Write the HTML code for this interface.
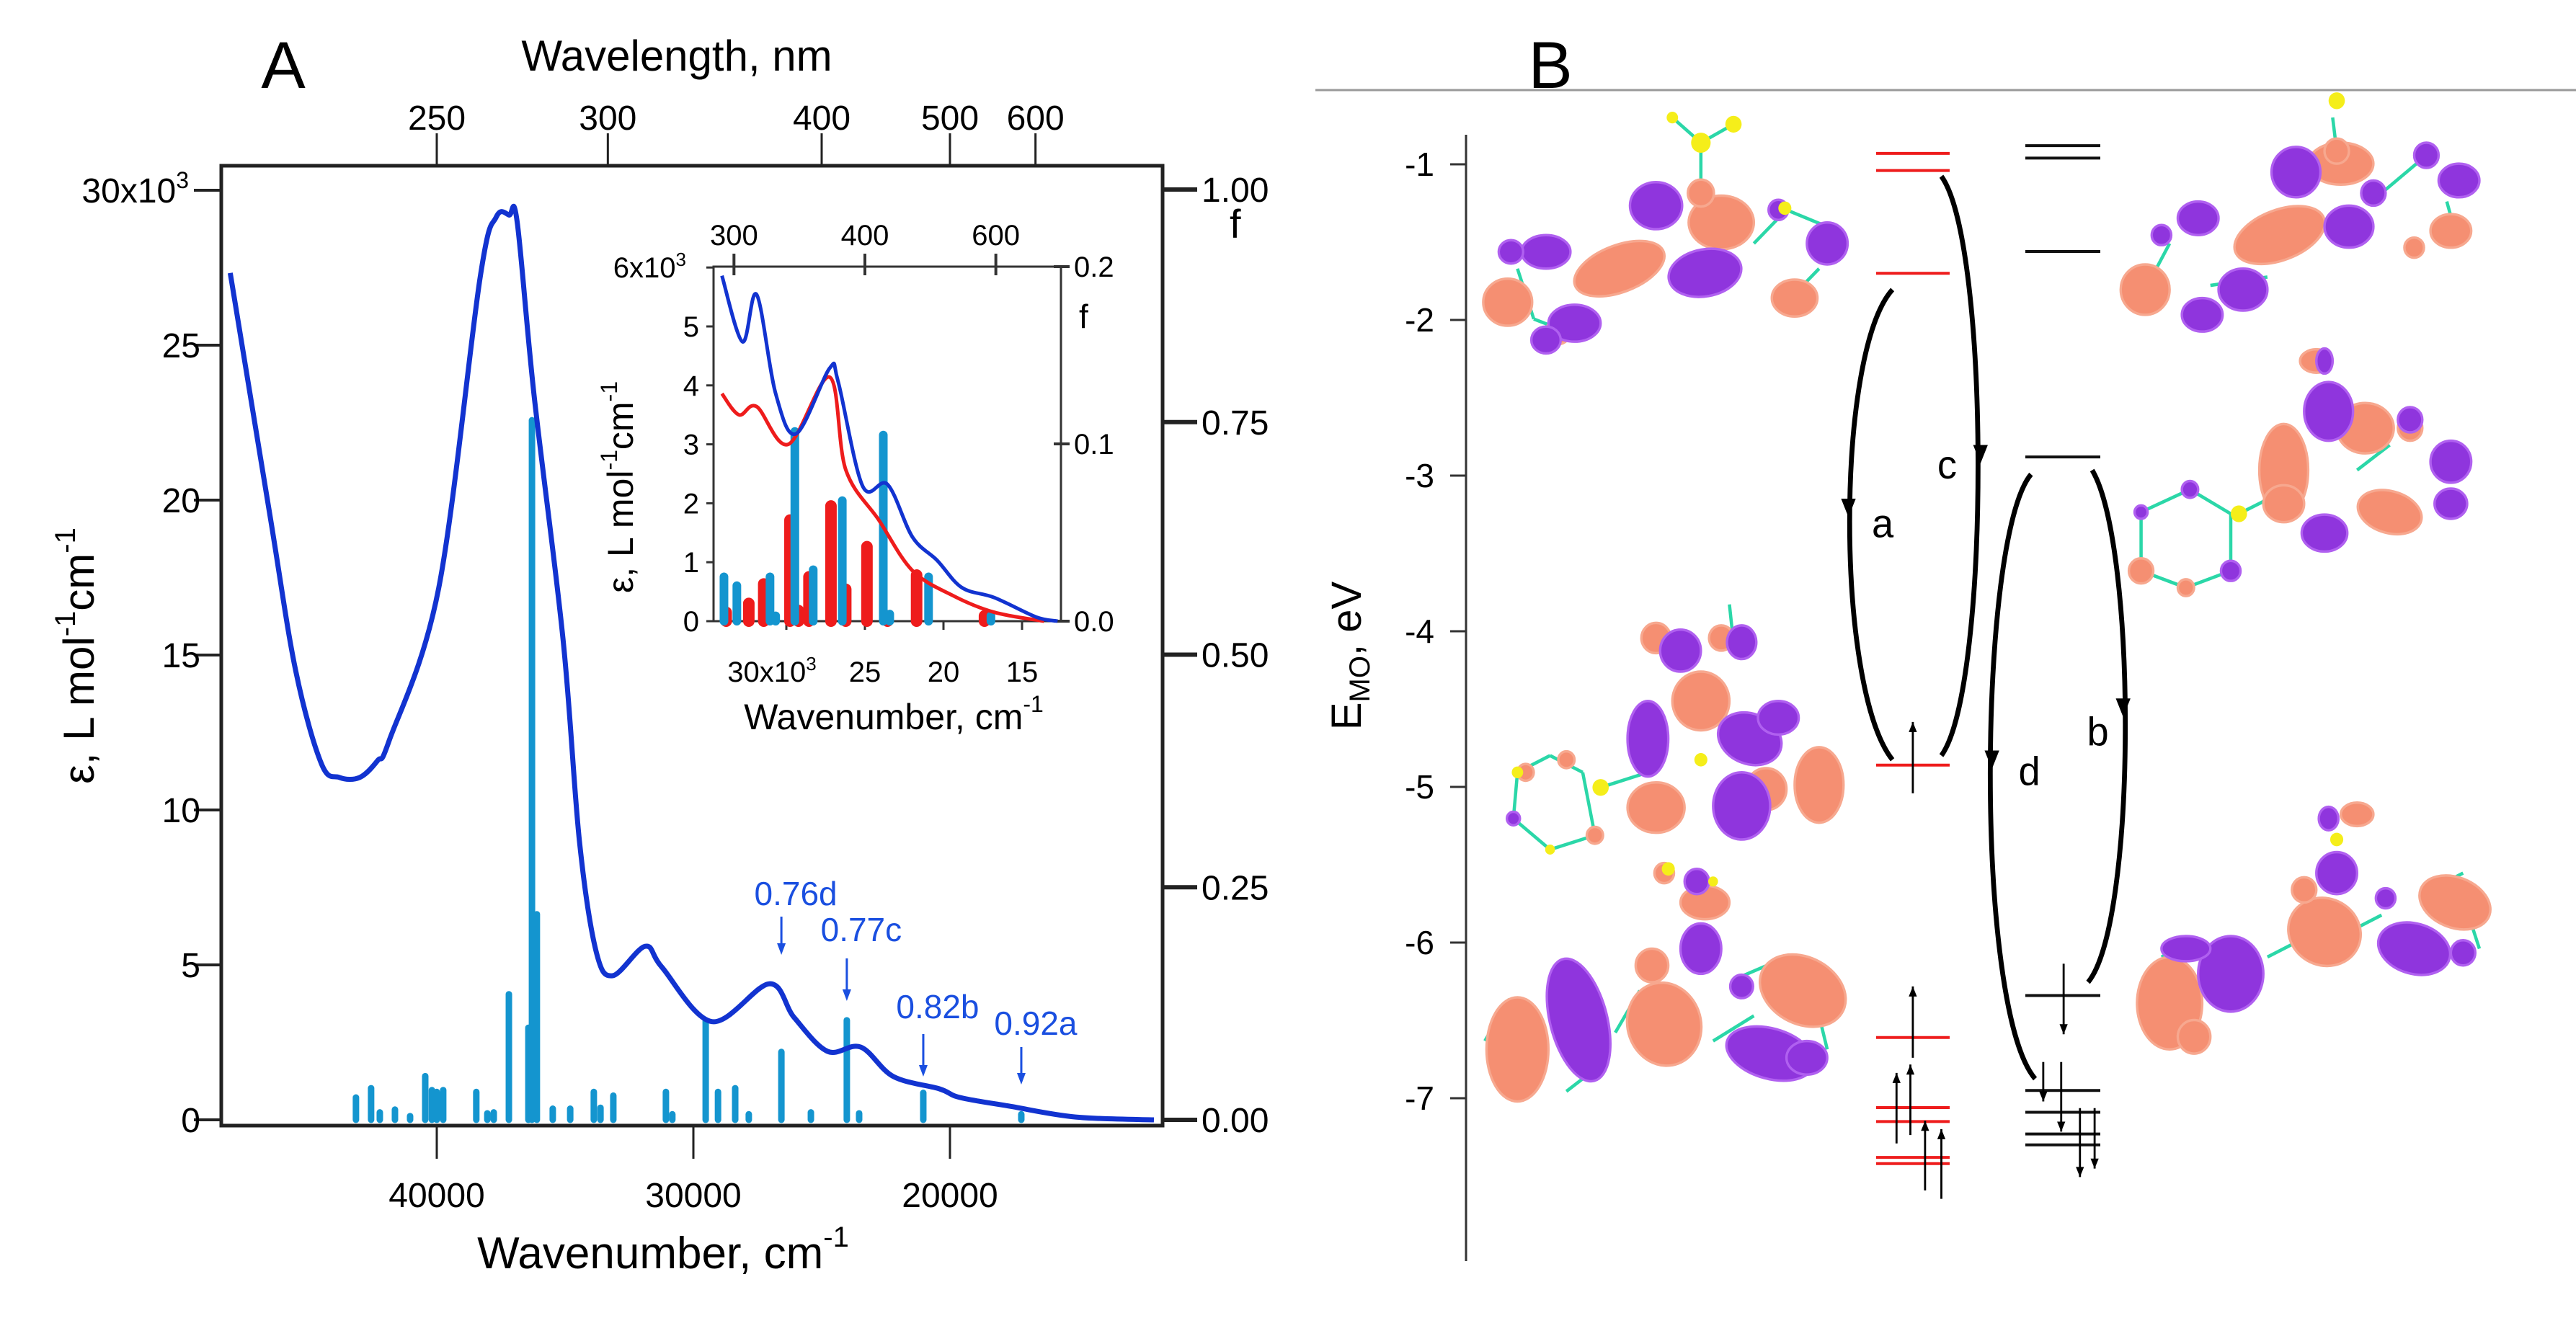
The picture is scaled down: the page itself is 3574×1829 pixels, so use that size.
<!DOCTYPE html>
<html><head><meta charset="utf-8"><style>
html,body{margin:0;padding:0;background:#fff}
svg{display:block;font-family:"Liberation Sans",Arial,sans-serif}
</style></head><body>
<svg id="fig" width="3574" height="1829" viewBox="0 0 3574 1829" xmlns="http://www.w3.org/2000/svg">
<rect width="3574" height="1829" fill="#fff"/>
<g id="panelA"></g>
<g id="panelB"></g>
</svg>
<script>
// ---------- Panel A data ----------
const mainWn  = [48050,46500,45500,44500,43800,43000,42300,41850,39930,38310,37680,37180,36870,36210,35080,34440,33800,33150,31880,31230,29280,27040,26070,24770,23480,22210,20410,19610,17670,15100,12050];
const mainEps = [27330,19500,14500,11500,11050,11050,11600,12250,17140,27190,29140,29200,29000,23400,15500,9000,5470,4650,5600,4930,3170,4390,3300,2210,2350,1400,1000,720,440,90,0];
const barWn = [43150,42560,42220,41630,41040,40450,40190,40000,39750,38460,38030,37780,37190,36430,36290,36100,35480,34800,33880,33620,33120,31070,30820,29520,29040,28370,27840,26570,25420,24020,23540,21040,17220];
const barF  = [0.024,0.034,0.008,0.011,0.004,0.047,0.032,0.030,0.032,0.030,0.007,0.008,0.135,0.099,0.752,0.221,0.012,0.012,0.030,0.013,0.026,0.030,0.006,0.107,0.030,0.034,0.006,0.073,0.008,0.107,0.007,0.029,0.006];
const annLabels = ["0.76d","0.77c","0.82b","0.92a"];
const annWn = [26570,24020,21040,17220];
const yTicks = [0,5000,10000,15000,20000,25000,30000];
const yTickLabels = ["0","5","10","15","20","25","30x10"];
const xTicks = [40000,30000,20000];
const xTickLabels = ["40000","30000","20000"];
const nmTicks = [250,300,400,500,600];
const fTicks = [0,0.25,0.5,0.75,1.0];
const fTickLabels = ["0.00","0.25","0.50","0.75","1.00"];
// inset data
const inBlueWn  = [34100,32790,31890,30680,29370,27250,26710,25140,23560,21980,20400,18830,16760,14100,12740];
const inBlueEps = [5860,4740,5540,3860,3180,4290,4070,2290,2320,1430,1030,570,400,70,0];
const inRedWn  = [34100,33020,31890,29870,27250,26220,24100,21980,19370,16760,13600];
const inRedEps = [3860,3500,3640,3000,4140,2570,1710,860,430,150,0];
const inBlueBarWn = [33970,33150,31040,29460,28290,26440,23830,23420,20950,16980,30680];
const inBlueBarF  = [0.025,0.020,0.025,0.107,0.029,0.068,0.105,0.004,0.025,0.003,0.003];
const inRedBarWn = [33830,32390,31440,29770,29230,28560,27160,26220,24870,23560,21710,17390];
const inRedBarF  = [0.005,0.010,0.021,0.057,0.006,0.025,0.065,0.018,0.042,0.003,0.026,0.003];
const inXTicks = [30000,25000,20000,15000];
const inXTickLabels = ["30x10","25","20","15"];
const inYTicks = [0,1000,2000,3000,4000,5000,6000];
const inYTickLabels = ["0","1","2","3","4","5","6x10"];
const inNmTicks = [300,400,600];
const inFTicks = [0,0.1,0.2];
const inFTickLabels = ["0.0","0.1","0.2"];

// ---------- Panel B data ----------
const redLevels = [-0.93,-1.04,-1.70,-4.86,-6.61,-7.06,-7.15,-7.38,-7.42];
const blackLevels = [-0.88,-0.96,-1.56,-2.88,-6.34,-6.95,-7.09,-7.23,-7.30];
const eTicks = [-1,-2,-3,-4,-5,-6,-7];

const NS="http://www.w3.org/2000/svg";
function mk(tag, parent, attrs){const e=document.createElementNS(NS,tag);for(const k in attrs)e.setAttribute(k,attrs[k]);parent.appendChild(e);return e;}
function smooth(pts){let d="M"+pts[0][0]+","+pts[0][1];for(let i=0;i<pts.length-1;i++){const p0=pts[Math.max(0,i-1)],p1=pts[i],p2=pts[i+1],p3=pts[Math.min(pts.length-1,i+2)];const c1=[p1[0]+(p2[0]-p0[0])/6,p1[1]+(p2[1]-p0[1])/6],c2=[p2[0]-(p3[0]-p1[0])/6,p2[1]-(p3[1]-p1[1])/6];d+=" C"+c1[0].toFixed(1)+","+c1[1].toFixed(1)+" "+c2[0].toFixed(1)+","+c2[1].toFixed(1)+" "+p2[0].toFixed(1)+","+p2[1].toFixed(1);}return d;}

const A=document.getElementById('panelA');
const xA=w=>606+(40000-w)*0.0356;
const yA=e=>1554-e*215/5000;
const yF=f=>1554-f*1291;
const xNm=n=>xA(1e7/n);
const xI=w=>1200+(25000-w)*0.0218;
const yI=e=>862-e*0.0818;
const yIF=f=>862-f*2460;

let t;
t=mk('text',A,{x:393,y:122,'font-size':92,'text-anchor':'middle',fill:'#000'});t.textContent='A';


t=mk('text',A,{x:939,y:98,'font-size':60,'text-anchor':'middle'});t.textContent='Wavelength, nm';


let fr=mk('rect',A,{x:307,y:230,width:1306,height:1332,fill:'none',stroke:'#222','stroke-width':5});


yTicks.forEach((v,i)=>{const y=yA(v);
 const l=mk('line',A,{x1:269,x2:307,y1:y,y2:y,stroke:'#222','stroke-width':4});
 
 
 const tx=mk('text',A,{x:i==6?262:278,y:y+17,'font-size':48,'text-anchor':'end'});
 tx.textContent=yTickLabels[i];
 if(i==6){const s=mk('tspan',tx,{dy:-20,'font-size':32});s.textContent='3';}
 
 });
mk('line',A,{x1:1613,x2:1613,y1:230,y2:1562,stroke:'#222','stroke-width':5});
fTicks.forEach((v,i)=>{const y=yF(v);
 const l=mk('line',A,{x1:1613,x2:1661,y1:y,y2:y,stroke:'#222','stroke-width':6});
 
 
 const tx=mk('text',A,{x:1667,y:y+17,'font-size':48});tx.textContent=fTickLabels[i];
 
 });
t=mk('text',A,{x:1706,y:330,'font-size':56});t.textContent='f';


xTicks.forEach((v,i)=>{const x=xA(v);
 const l=mk('line',A,{x1:x,x2:x,y1:1562,y2:1608,stroke:'#222','stroke-width':3});
 
 
 const tx=mk('text',A,{x:x,y:1675,'font-size':48,'text-anchor':'middle'});tx.textContent=xTickLabels[i];
 
 });
t=mk('text',A,{x:920,y:1760,'font-size':62,'text-anchor':'middle'});t.textContent='Wavenumber, cm';
let sp=mk('tspan',t,{dy:-30,'font-size':40});sp.textContent='-1';


nmTicks.forEach(n=>{const x=xNm(n);
 const l=mk('line',A,{x1:x,x2:x,y1:230,y2:185,stroke:'#222','stroke-width':3});
 
 
 const tx=mk('text',A,{x:x,y:180,'font-size':48,'text-anchor':'middle'});tx.textContent=String(n);
 
 });
t=mk('text',A,{x:0,y:0,'font-size':60,'text-anchor':'middle',transform:'translate(130,910) rotate(-90)'});
t.textContent='ε, L mol';
sp=mk('tspan',t,{dy:-26,'font-size':40});sp.textContent='-1';
sp=mk('tspan',t,{dy:26});sp.textContent='cm';
sp=mk('tspan',t,{dy:-26,'font-size':40});sp.textContent='-1';


barWn.forEach((w,i)=>{const x=xA(w);
 const b=mk('line',A,{x1:x,x2:x,y1:yF(0),y2:Math.min(yF(barF[i]),yF(0)-4),stroke:'#1495cf','stroke-width':9,'stroke-linecap':'round'});
 
 });
let p=mk('path',A,{d:smooth(mainWn.map((w,i)=>[xA(w),yA(mainEps[i])])),fill:'none',stroke:'#1233d0','stroke-width':7,'stroke-linejoin':'round'});


const annDy=[[1272,1325,1241],[1330,1389,1291],[1435,1494,1398],[1453,1505,1421]];
annWn.forEach((w,i)=>{const x=xA(w);
 const l=mk('line',A,{x1:x,x2:x,y1:annDy[i][0],y2:annDy[i][1]-10,stroke:'#1a4fe0','stroke-width':3});
 
 
 mk('path',A,{d:`M${x-6},${annDy[i][1]-16} L${x+6},${annDy[i][1]-16} L${x},${annDy[i][1]} Z`,fill:'#1a4fe0'});
 const tx=mk('text',A,{x:x+20,y:annDy[i][2]+15,'font-size':46,'text-anchor':'middle',fill:'#1a4fe0'});tx.textContent=annLabels[i];
 
 });

// ---------- inset ----------
let ib=mk('rect',A,{x:990,y:370,width:482,height:492,fill:'none',stroke:'#333','stroke-width':3});


inYTicks.forEach((v,i)=>{const y=yI(v);
 const l=mk('line',A,{x1:980,x2:990,y1:y,y2:y,stroke:'#333','stroke-width':3});
 
 
 const tx=mk('text',A,{x:i==6?952:970,y:y+14,'font-size':40,'text-anchor':'end'});tx.textContent=inYTickLabels[i];
 if(i==6){const s=mk('tspan',tx,{dy:-16,'font-size':26});s.textContent='3';}
 
 });
inFTicks.forEach((v,i)=>{const y=yIF(v);
 const l=mk('line',A,{x1:1462,x2:1484,y1:y,y2:y,stroke:'#333','stroke-width':4});
 
 
 const tx=mk('text',A,{x:1490,y:y+14,'font-size':40});tx.textContent=inFTickLabels[i];
 
 });
t=mk('text',A,{x:1497,y:455,'font-size':46});t.textContent='f';


inXTicks.forEach((v,i)=>{const x=xI(v);
 const l=mk('line',A,{x1:x,x2:x,y1:862,y2:874,stroke:'#333','stroke-width':3});
 
 
 const tx=mk('text',A,{x:i==0?x-20:x,y:946,'font-size':40,'text-anchor':'middle'});tx.textContent=inXTickLabels[i];
 if(i==0){const s=mk('tspan',tx,{dy:-16,'font-size':26});s.textContent='3';}
 
 });
t=mk('text',A,{x:1240,y:1012,'font-size':50,'text-anchor':'middle'});t.textContent='Wavenumber, cm';
sp=mk('tspan',t,{dy:-24,'font-size':32});sp.textContent='-1';


inNmTicks.forEach(n=>{const x=xI(1e7/n);
 const l=mk('line',A,{x1:x,x2:x,y1:352,y2:382,stroke:'#333','stroke-width':4});
 
 
 const tx=mk('text',A,{x:x,y:340,'font-size':40,'text-anchor':'middle'});tx.textContent=String(n);
 
 });
t=mk('text',A,{x:0,y:0,'font-size':50,'text-anchor':'middle',transform:'translate(878,676) rotate(-90)'});
t.textContent='ε, L mol';
sp=mk('tspan',t,{dy:-22,'font-size':32});sp.textContent='-1';
sp=mk('tspan',t,{dy:22});sp.textContent='cm';
sp=mk('tspan',t,{dy:-22,'font-size':32});sp.textContent='-1';


inRedBarWn.forEach((w,i)=>{const x=xI(w);
 const b=mk('line',A,{x1:x,x2:x,y1:yIF(0),y2:Math.min(yIF(inRedBarF[i]),yIF(0)-6),stroke:'#ee1c1c','stroke-width':16,'stroke-linecap':'round'});
 
 });
inBlueBarWn.forEach((w,i)=>{const x=xI(w);
 const b=mk('line',A,{x1:x,x2:x,y1:yIF(0),y2:Math.min(yIF(inBlueBarF[i]),yIF(0)-6),stroke:'#1495cf','stroke-width':12,'stroke-linecap':'round'});
 
 });
p=mk('path',A,{d:smooth(inRedWn.map((w,i)=>[xI(w),yI(inRedEps[i])])),fill:'none',stroke:'#ee1c1c','stroke-width':5});


p=mk('path',A,{d:smooth(inBlueWn.map((w,i)=>[xI(w),yI(inBlueEps[i])])),fill:'none',stroke:'#1233d0','stroke-width':5});



// ---------- Panel B ----------
const B=document.getElementById('panelB');
let hl=mk('line',B,{x1:1825,x2:3574,y1:125,y2:125,stroke:'#999','stroke-width':3});


t=mk('text',B,{x:2151,y:122,'font-size':92,'text-anchor':'middle'});t.textContent='B';


const yE=E=>228+(-1-E)*216;
let ax=mk('line',B,{x1:2034,x2:2034,y1:187,y2:1750,stroke:'#333','stroke-width':3});


eTicks.forEach(v=>{const y=yE(v);
 const l=mk('line',B,{x1:2012,x2:2034,y1:y,y2:y,stroke:'#333','stroke-width':3});
 
 
 const tx=mk('text',B,{x:1990,y:y+16,'font-size':46,'text-anchor':'end'});tx.textContent=String(v);
 
 });
t=mk('text',B,{x:0,y:0,'font-size':58,'text-anchor':'middle',transform:'translate(1888,910) rotate(-90)'});
t.textContent='E';sp=mk('tspan',t,{dy:12,'font-size':40});sp.textContent='MO';
sp=mk('tspan',t,{dy:-12});sp.textContent=', eV';


redLevels.forEach(E=>{const y=yE(E);
 const l=mk('line',B,{x1:2603,x2:2705,y1:y,y2:y,stroke:'#ee1c1c','stroke-width':4});
 
 });
blackLevels.forEach(E=>{const y=yE(E);
 const l=mk('line',B,{x1:2810,x2:2914,y1:y,y2:y,stroke:'#111','stroke-width':4});
 
 });

const G=mk('g',B,{transform:'translate(1800,0) scale(1.131,1.165)'});


function arrowCurve(d,name){const pa=mk('path',G,{d:d,fill:'none',stroke:'#000','stroke-width':6});
 
 }
arrowCurve('M730,345 C660,420 660,820 730,905','transition-arrow-a');
arrowCurve('M790,210 C850,290 850,820 790,900','transition-arrow-c');
arrowCurve('M900,565 C835,640 830,1200 905,1285','transition-arrow-d');
arrowCurve('M975,560 C1030,650 1030,1100 970,1170','transition-arrow-b');
[[676,612],[838,548],[852,912],[1013,850]].forEach(a=>{mk('path',G,{d:`M${a[0]-9},${a[1]-18} L${a[0]+9},${a[1]-18} L${a[0]},${a[1]+4} Z`,fill:'#000'});});
[['a',718,640],['c',797,570],['d',898,935],['b',982,888]].forEach(a=>{const tx=mk('text',G,{x:a[1],y:a[2],'font-size':48,'text-anchor':'middle'});tx.textContent=a[0];
 
 });
function spin(x,y1,y2){mk('line',G,{x1:x,x2:x,y1:y1,y2:y2,stroke:'#000','stroke-width':2.5});const dir=y2<y1?1:-1;mk('path',G,{d:`M${x-5},${y2+dir*12} L${x+5},${y2+dir*12} L${x},${y2} Z`,fill:'#000'});}
spin(755,945,860);spin(755,1260,1175);spin(735,1362,1278);spin(752,1352,1268);spin(770,1418,1335);spin(790,1428,1345);
spin(940,1148,1232);spin(915,1265,1312);spin(937,1265,1348);spin(960,1320,1402);spin(978,1320,1392);
const PU='#8f35dd',SA='#f58f72';
function blobs(list,color){list.forEach(b=>{mk('ellipse',G,{cx:b[0],cy:b[1],rx:b[2],ry:b[3],fill:color,transform:`rotate(${b[4]||0} ${b[0]} ${b[1]})`,stroke:color==PU?'#b060f0':'#f7a88f','stroke-width':3});});}
function bonds(list){list.forEach(s=>{mk('line',G,{x1:s[0],y1:s[1],x2:s[2],y2:s[3],stroke:s[4]||'#2bd7a8','stroke-width':4});});}
function atoms(list){list.forEach(a=>{mk('circle',G,{cx:a[0],cy:a[1],r:a[2],fill:'#f5ee1a'});});}
bonds([[270,320,290,380],[290,380,330,395],[360,350,380,300],[560,290,600,250],[600,250,650,270],[640,320,600,360],[495,170,495,230],[495,170,460,140],[495,170,535,148]]);
blobs([[258,360,30,28],[395,320,58,28,-20],[520,265,40,32],[495,230,16,16],[610,355,28,22],[320,395,15,15]],SA);
blobs([[305,300,30,20],[262,300,15,14],[440,245,32,28],[500,325,45,28,-10],[340,385,32,22],[305,405,18,16],[650,290,25,25],[590,250,12,12]],PU);
atoms([[495,170,12],[535,148,10],[598,248,8],[460,140,7]]);
bonds([[270,920,310,900],[310,900,350,920],[350,920,365,995],[365,995,310,1012],[310,1012,265,975],[265,975,270,920],[372,938,430,920],[530,720,535,765]]);
blobs([[495,835,35,35],[440,760,18,18],[520,760,15,15],[440,962,35,30],[640,935,30,45],[575,940,25,25],[330,905,10,10],[280,920,10,10],[365,995,10,10]],SA);
blobs([[430,880,25,45],[470,775,25,25],[545,765,18,20],[555,880,40,30,20],[545,960,35,40],[590,855,25,20],[265,975,8,8]],PU);
atoms([[372,938,10],[270,920,7],[310,1012,6],[495,905,8]]);
bonds([[230,1240,260,1190],[330,1300,370,1270],[390,1230,420,1180],[510,1240,560,1210],[540,1165,600,1140],[640,1210,650,1250]]);
blobs([[270,1250,38,62],[450,1220,45,50,-20],[620,1180,55,40,25],[435,1150,20,20],[500,1075,30,20],[450,1040,12,12]],SA);
blobs([[345,1215,35,75,-15],[495,1130,25,30],[580,1255,55,30,15],[625,1260,25,20],[490,1050,15,15],[545,1175,14,14]],PU);
atoms([[455,1035,8],[510,1050,6]]);
bonds([[1040,345,1070,290],[1120,340,1190,330],[1330,230,1385,185],[1410,240,1420,275],[1270,140,1275,180]]);
blobs([[1280,195,40,25],[1205,280,58,30,-20],[1040,345,30,30],[1415,275,25,20],[1370,295,12,12],[1275,180,15,15]],SA);
blobs([[1225,205,30,30],[1105,260,25,20],[1060,280,12,12],[1290,270,30,25],[1385,185,15,15],[1425,215,25,20],[1160,345,30,25],[1110,375,25,20],[1320,230,15,15]],PU);
atoms([[1275,120,10]]);
bonds([[1035,610,1095,583],[1095,583,1145,612],[1145,612,1145,680],[1145,680,1090,700],[1090,700,1035,680],[1035,680,1035,610],[1155,612,1200,590],[1300,560,1340,530]]);
blobs([[1210,560,30,55],[1310,510,35,30],[1340,610,40,25,15],[1365,510,15,15],[1035,680,15,15],[1090,700,10,10],[1250,430,20,14],[1210,600,25,22]],SA);
blobs([[1265,490,30,35],[1260,635,28,22],[1415,550,25,25],[1415,600,20,18],[1365,500,15,15],[1095,583,10,10],[1145,680,12,12],[1035,610,8,8],[1260,430,10,15]],PU);
atoms([[1155,612,10]]);
bonds([[1060,1140,1100,1120],[1190,1140,1230,1120],[1290,1110,1330,1090],[1390,1060,1430,1040],[1440,1100,1450,1130]]);
blobs([[1420,1075,45,30,20],[1260,1110,45,40,20],[1070,1195,40,55],[1100,1235,20,20],[1235,1060,15,15],[1300,970,20,14]],SA);
blobs([[1275,1040,25,25],[1145,1160,40,45],[1090,1130,30,15],[1370,1130,45,30,15],[1430,1135,15,15],[1335,1070,12,12],[1265,975,12,14]],PU);
atoms([[1275,1000,8]]);
</script>
</body></html>
